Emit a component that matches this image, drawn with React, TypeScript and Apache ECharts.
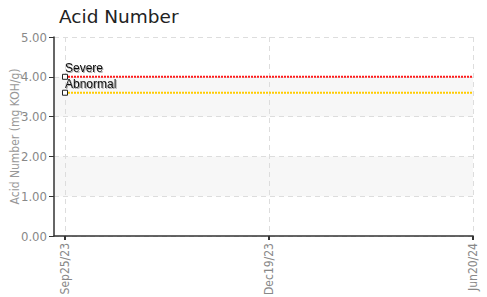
import React, { useEffect, useRef } from "react";
import * as echarts from "echarts";

const categories = ["Sep25/23", "Dec19/23", "Jun20/24"];
const severeValues = [4.0, 4.0, 4.0];
const abnormalValues = [3.6, 3.6, 3.6];
const yTicks = [0, 1, 2, 3, 4, 5];

const labelFont = "'Liberation Sans Narrow', 'DejaVu Sans Condensed', 'Roboto', sans-serif";

function limitSeries(name: string, values: number[], color: string) {
  return {
    name,
    type: "line",
    silent: true,
    z: 5,
    lineStyle: { color, width: 2, type: [2, 1] },
    itemStyle: { color: "#fff", borderColor: "#222", borderWidth: 1 },
    data: values.map((v, i) =>
      i === 0
        ? {
            value: [i, v],
            symbol: "rect",
            symbolSize: 5,
            label: {
              show: true,
              position: [3, -12],
              formatter: name,
              color: "#111",
              fontSize: 12,
              fontFamily: "'Liberation Sans', Arial, sans-serif",
              textShadowColor: "rgba(0,0,0,0.35)",
              textShadowBlur: 1,
              textShadowOffsetX: 1,
              textShadowOffsetY: 1,
            },
          }
        : { value: [i, v], symbol: "none" }
    ),
  };
}

export default function App() {
  const ref = useRef<HTMLDivElement>(null);
  useEffect(() => {
    if (!ref.current) return;
    const chart = echarts.init(ref.current, undefined, { renderer: "svg" });
    chart.setOption({
      animation: false,
      backgroundColor: "#fff",
      title: {
        text: "Acid Number",
        left: 54,
        top: 2,
        textStyle: {
          fontFamily: "'DejaVu Sans', sans-serif",
          fontWeight: "normal",
          fontSize: 18.5,
          color: "#222",
        },
      },
      grid: { left: 54, right: 14, top: 37, bottom: 61, containLabel: false, outerBoundsMode: "none" },
      xAxis: {
        type: "value",
        min: -0.054,
        max: 2,
        axisLine: { show: true, onZero: false, lineStyle: { color: "#333", width: 1.5 } },
        axisTick: { show: true, customValues: [0, 1, 2], length: 4, lineStyle: { color: "#333", width: 2 } },
        axisLabel: {
          customValues: [0, 1, 2],
          rotate: 90,
          margin: 7,
          color: "#888",
          fontSize: 12,
          fontFamily: labelFont,
          formatter: (v: number) => categories[Math.round(v)] ?? "",
        },
        splitLine: { show: true, lineStyle: { color: "#ddd", type: [5, 4] } },
      },
      yAxis: {
        type: "value",
        min: yTicks[0],
        max: yTicks[yTicks.length - 1],
        interval: 1,
        name: "Acid Number (mg KOH/g)",
        nameLocation: "middle",
        nameGap: 33,
        nameMoveOverlap: false,
        nameTextStyle: { color: "#999", fontSize: 12, fontFamily: labelFont },
        axisLine: { show: true, onZero: false, lineStyle: { color: "#333", width: 1.5 } },
        axisTick: { show: true, length: 5, lineStyle: { color: "#333" } },
        axisLabel: {
          margin: 7,
          color: "#888",
          fontSize: 13,
          fontFamily: labelFont,
          formatter: (v: number) => v.toFixed(2),
        },
        splitLine: { show: true, lineStyle: { color: "#ddd", type: [5, 4] } },
        splitArea: { show: true, areaStyle: { color: ["rgba(255,255,255,0)", "#f7f7f7"] } },
      },
      series: [
        limitSeries("Severe", severeValues, "#ff1a1a"),
        limitSeries("Abnormal", abnormalValues, "#ffcc00"),
      ],
    });
    return () => chart.dispose();
  }, []);
  return <div ref={ref} style={{ width: 487, height: 297, position: "absolute", left: 0, top: 0 }} />;
}
